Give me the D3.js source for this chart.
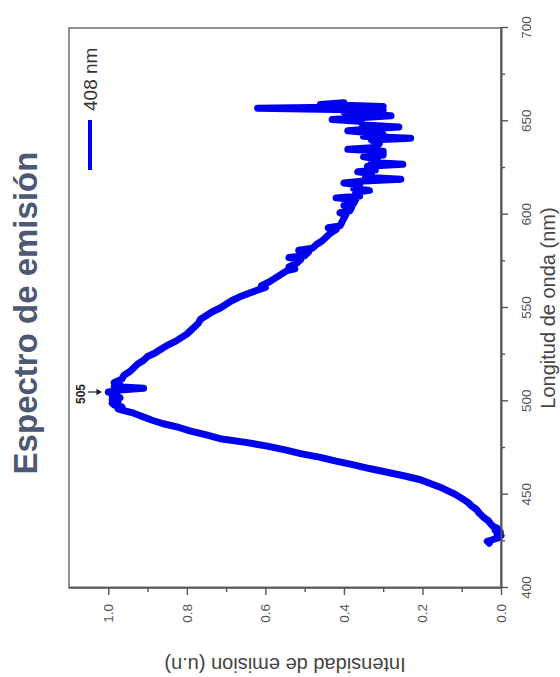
<!DOCTYPE html>
<html><head><meta charset="utf-8">
<script src="https://cdn.jsdelivr.net/npm/d3@7"></script>
<style>body{margin:0;background:#fff}svg{display:block}</style>
</head><body>
<script>
const titleText = "Espectro de emisión";
const xLabelText = "Longitud de onda (nm)";
const yLabelText = "Intensidad de emision (u.n)";
const seriesName = "408 nm";
const peakLabel = "505";
const peakWavelength = 505;
const peakIntensity = 1.0;
const xTickValues = [400, 450, 500, 550, 600, 650, 700];
const xMinorTicks = [425, 475, 525, 575, 625, 675];
const yTickValues = [0, 0.2, 0.4, 0.6, 0.8, 1.0];
const yMinorTicks = [0.1, 0.3, 0.5, 0.7, 0.9];

const wavelengths = [424,425,426,427,428,429,430,431,432,433,434,436,438,440,442,444,446,448,450,452,454,456,458,460,462,464,466,468,470,472,474,476,478,480,482,484,486,488,490,492,494,495,496,497,498,499,500,501,502,503,504,505,506,507,508,509,510,512,514,516,518,520,522,524,526,528,530,532,534,536,538,540,542,544,546,548,550,552,554,556,558,560,561,562,564,566,568,570,571,572,574,576,577,578,580,581,582,584,586,588,590,592,593,594,596,598,600,601,602,604,605,606,608,609,610,612,613,614,616,617,618,619,620,622,623,624,626,627,628,630,631,632,634,635,636,638,640,641,642,643,644,645,646,647,648,650,651,652,653,654,655,656,657,658,659,660];
const intensities = [0.03,0.035,0.02,0.006,0.0,0.01,0.002,0.015,0.01,0.02,0.025,0.032,0.045,0.055,0.062,0.075,0.085,0.10,0.115,0.135,0.155,0.18,0.205,0.245,0.29,0.335,0.375,0.42,0.46,0.51,0.55,0.595,0.65,0.715,0.75,0.79,0.82,0.86,0.89,0.915,0.94,0.96,0.975,0.965,0.985,0.99,0.975,0.99,0.97,0.99,0.98,1.0,0.97,0.91,0.985,0.97,0.985,0.965,0.96,0.945,0.935,0.925,0.91,0.90,0.88,0.865,0.85,0.83,0.815,0.80,0.79,0.78,0.77,0.765,0.75,0.735,0.715,0.70,0.685,0.665,0.64,0.615,0.60,0.61,0.59,0.575,0.56,0.545,0.525,0.54,0.52,0.51,0.54,0.50,0.49,0.515,0.48,0.47,0.455,0.445,0.435,0.42,0.44,0.41,0.405,0.40,0.395,0.41,0.385,0.38,0.40,0.375,0.37,0.42,0.36,0.37,0.335,0.375,0.36,0.40,0.35,0.255,0.345,0.33,0.365,0.32,0.34,0.25,0.33,0.315,0.35,0.30,0.30,0.39,0.32,0.31,0.33,0.23,0.35,0.30,0.34,0.39,0.33,0.26,0.35,0.36,0.43,0.35,0.28,0.37,0.40,0.30,0.62,0.30,0.46,0.40];

const PW = 560, PH = 677;      // page (rotated view)
const CW = 677, CH = 560;      // chart in its own, unrotated frame
const m = {left: 89, right: 28, top: 69, bottom: 59};
const font = "'Liberation Sans', Arial, sans-serif";
const axisColor = "#555";

const svg = d3.select("body").append("svg").attr("width", PW).attr("height", PH);
svg.append("rect").attr("width", PW).attr("height", PH).attr("fill", "#fff");
const g = svg.append("g").attr("transform", `translate(0,${PH}) rotate(-90)`);

const x = d3.scaleLinear().domain([400, 700]).range([m.left, CW - m.right]);
const y = d3.scaleLinear().domain([0, 1.1]).range([CH - m.bottom, m.top]);

// frame
g.append("rect").attr("x", m.left).attr("y", m.top)
  .attr("width", CW - m.left - m.right).attr("height", CH - m.top - m.bottom)
  .attr("fill", "#fff").attr("stroke", "#777").attr("stroke-width", 1.6);

// data line
const pts = wavelengths.map((w, i) => [w, intensities[i]]);
g.append("path").datum(pts)
  .attr("fill", "none").attr("stroke", "#0000f0").attr("stroke-width", 7)
  .attr("stroke-linejoin", "round").attr("stroke-linecap", "round")
  .attr("d", d3.line().x(d => x(d[0])).y(d => y(d[1])));

// axes
function styleAxis(sel) {
  sel.select(".domain").attr("stroke", axisColor).attr("stroke-width", 1.6);
  sel.selectAll(".tick line").attr("stroke", axisColor).attr("stroke-width", 1.4);
  sel.selectAll(".tick text").attr("fill", axisColor).attr("font-family", font).attr("font-size", 13.5);
}
const xAxis = g.append("g").attr("transform", `translate(0,${CH - m.bottom})`)
  .call(d3.axisBottom(x).tickValues(xTickValues).tickFormat(d3.format("d")).tickSize(7).tickPadding(13).tickSizeOuter(0));
styleAxis(xAxis);
const xMinor = g.append("g").attr("transform", `translate(0,${CH - m.bottom})`)
  .call(d3.axisBottom(x).tickValues(xMinorTicks).tickFormat("").tickSize(4).tickSizeOuter(0));
styleAxis(xMinor);

const yAxis = g.append("g").attr("transform", `translate(${m.left},0)`)
  .call(d3.axisLeft(y).tickValues(yTickValues).tickFormat(d3.format(".1f")).tickSize(7).tickPadding(9).tickSizeOuter(0));
styleAxis(yAxis);
const yMinor = g.append("g").attr("transform", `translate(${m.left},0)`)
  .call(d3.axisLeft(y).tickValues(yMinorTicks).tickFormat("").tickSize(4).tickSizeOuter(0));
styleAxis(yMinor);

// title
g.append("text").attr("x", (m.left + CW - m.right) / 2 - 5).attr("y", 37)
  .attr("text-anchor", "middle").attr("font-family", font).attr("font-weight", "bold")
  .attr("font-size", 33).attr("fill", "#4c5874").text(titleText);

// axis titles
g.append("text").attr("x", (m.left + CW - m.right) / 2).attr("y", 555)
  .attr("text-anchor", "middle").attr("font-family", font).attr("font-size", 20)
  .attr("fill", "#444").text(xLabelText);
g.append("text").attr("transform", `translate(19,${(m.top + CH - m.bottom) / 2}) rotate(-90)`)
  .attr("text-anchor", "middle").attr("font-family", font).attr("font-size", 20)
  .attr("fill", "#444").text(yLabelText);

// legend
g.append("line").attr("x1", 507).attr("x2", 557).attr("y1", 90).attr("y2", 90)
  .attr("stroke", "#0000f0").attr("stroke-width", 4);
g.append("text").attr("x", 566).attr("y", 97).attr("font-family", font).attr("font-size", 19)
  .attr("fill", "#333").text(seriesName);

// peak annotation
const px = x(peakWavelength) - 2;
g.append("text").attr("x", px).attr("y", 85).attr("text-anchor", "middle")
  .attr("font-family", font).attr("font-weight", "bold").attr("font-size", 12)
  .attr("fill", "#222").text(peakLabel);
g.append("line").attr("x1", px + 2).attr("x2", px + 2).attr("y1", 88).attr("y2", y(peakIntensity) - 10)
  .attr("stroke", "#222").attr("stroke-width", 1.2);
g.append("path").attr("d", d3.symbol(d3.symbolTriangle, 18)())
  .attr("transform", `translate(${px + 2},${y(peakIntensity) - 10}) rotate(180)`).attr("fill", "#222");
</script>
</body></html>
